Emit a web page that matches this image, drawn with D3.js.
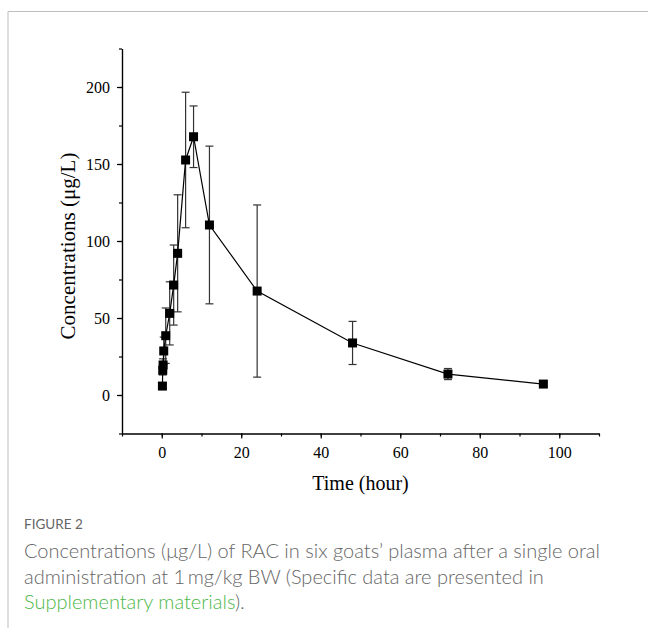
<!DOCTYPE html>
<html>
<head>
<meta charset="utf-8">
<script src="https://cdn.jsdelivr.net/npm/d3@7"></script>
<style>
  body { margin: 0; background: #fff; }
  svg { display: block; }
</style>
</head>
<body>
<svg id="drawing_region"></svg>
<script>
// sampling times (hour), mean concentrations (ug/L) and SD
const times = [0.167, 0.25, 0.333, 0.5, 1, 2, 3, 4, 6, 8, 12, 24, 48, 72, 96];
const means = [5.8, 16, 19.5, 28.6, 38.5, 53, 71.4, 92, 152.6, 167.7, 110.4, 67.5, 33.8, 13.6, 7.1];
const sds   = [1.5, 3, 4, 9, 18, 20.5, 26, 38, 44, 20, 51.2, 55.9, 14, 3.6, 0.8];

const xMajor = [0, 20, 40, 60, 80, 100];
const yMajor = [0, 50, 100, 150, 200];

const data = times.map((t, i) => ({ t: t, v: means[i], sd: sds[i] }));

const W = 648, H = 628;
const svg = d3.select('#drawing_region')
    .attr('width', W)
    .attr('height', H);

// frame around the figure
svg.append('path')
    .attr('d', `M8,${H} L8,11.5 L${W},11.5`)
    .attr('fill', 'none')
    .attr('stroke', '#bdbdbd')
    .attr('stroke-width', 1);

const xscale = d3.scaleLinear().domain([-10, 110]).range([122, 599]);
const yscale = d3.scaleLinear().domain([-25, 225]).range([433.5, 48.5]);

const serif = '"Liberation Serif", "Times New Roman", serif';

// minor ticks
const xMinor = d3.range(-10, 111, 10);
const yMinor = d3.range(-25, 226, 25);

svg.append('g')
    .attr('transform', `translate(0, ${yscale(-25)})`)
    .call(d3.axisBottom(xscale).tickValues(xMinor).tickSize(3).tickSizeOuter(0).tickFormat(''));
svg.append('g')
    .attr('transform', `translate(${xscale(-10)}, 0)`)
    .call(d3.axisLeft(yscale).tickValues(yMinor).tickSize(3).tickSizeOuter(0).tickFormat(''));

// major ticks with labels
const xaxis_group = svg.append('g')
    .attr('transform', `translate(0, ${yscale(-25)})`)
    .call(d3.axisBottom(xscale).tickValues(xMajor).tickSize(5).tickSizeOuter(0).tickPadding(8));
const yaxis_group = svg.append('g')
    .attr('transform', `translate(${xscale(-10)}, 0)`)
    .call(d3.axisLeft(yscale).tickValues(yMajor).tickSize(5).tickSizeOuter(0).tickPadding(7));

svg.selectAll('.domain').attr('stroke', '#000').attr('stroke-width', 1.2);
svg.selectAll('.tick line').attr('stroke', '#000').attr('stroke-width', 1.2);
svg.selectAll('.tick text')
    .attr('font-family', serif)
    .attr('font-size', 16)
    .attr('fill', '#000');

// axis titles
svg.append('text')
    .attr('x', (xscale(-10) + xscale(110)) / 2)
    .attr('y', 490)
    .attr('text-anchor', 'middle')
    .attr('font-family', serif)
    .attr('font-size', 20)
    .text('Time (hour)');

svg.append('text')
    .attr('transform', `translate(75, 246) rotate(-90)`)
    .attr('text-anchor', 'middle')
    .attr('font-family', serif)
    .attr('font-size', 21)
    .text('Concentrations (μg/L)');

// error bars
const capW = 4;
const eb = svg.append('g').attr('stroke', '#333').attr('stroke-width', 1.2);
data.forEach(d => {
    const x = xscale(d.t);
    const y1 = yscale(d.v + d.sd), y2 = yscale(d.v - d.sd);
    eb.append('line').attr('x1', x).attr('x2', x).attr('y1', y1).attr('y2', y2);
    eb.append('line').attr('x1', x - capW).attr('x2', x + capW).attr('y1', y1).attr('y2', y1);
    eb.append('line').attr('x1', x - capW).attr('x2', x + capW).attr('y1', y2).attr('y2', y2);
});

// line
const line = d3.line().x(d => xscale(d.t)).y(d => yscale(d.v));
svg.append('path')
    .datum(data)
    .attr('d', line)
    .attr('fill', 'none')
    .attr('stroke', '#000')
    .attr('stroke-width', 1.2);

// square markers
const sq = 9;
svg.selectAll('rect.pt').data(data).enter()
    .append('rect')
    .attr('class', 'pt')
    .attr('x', d => xscale(d.t) - sq / 2)
    .attr('y', d => yscale(d.v) - sq / 2)
    .attr('width', sq)
    .attr('height', sq)
    .attr('fill', '#000');

// caption
const sans = 'Lato, "Open Sans", sans-serif';
svg.append('text')
    .attr('x', 24).attr('y', 529)
    .attr('font-family', sans)
    .attr('font-size', 13.5)
    .attr('fill', '#666')
    .text('FIGURE 2');

const capLines = [
    [{ t: 'Concentrations (μg/L) of RAC in six goats’ plasma after a single oral', c: '#666' }],
    [{ t: 'administration at 1\u2009mg/kg BW (Specific data are presented in', c: '#666' }],
    [{ t: 'Supplementary materials', c: '#4cb848' }, { t: ').', c: '#666' }]
];
capLines.forEach((ln, i) => {
    const txt = svg.append('text')
        .attr('x', 24)
        .attr('y', 558 + i * 25.5)
        .attr('font-family', sans)
        .attr('font-size', 20)
        .attr('font-weight', 300);
    ln.forEach(s => txt.append('tspan').attr('fill', s.c).text(s.t));
});
</script>
</body>
</html>
